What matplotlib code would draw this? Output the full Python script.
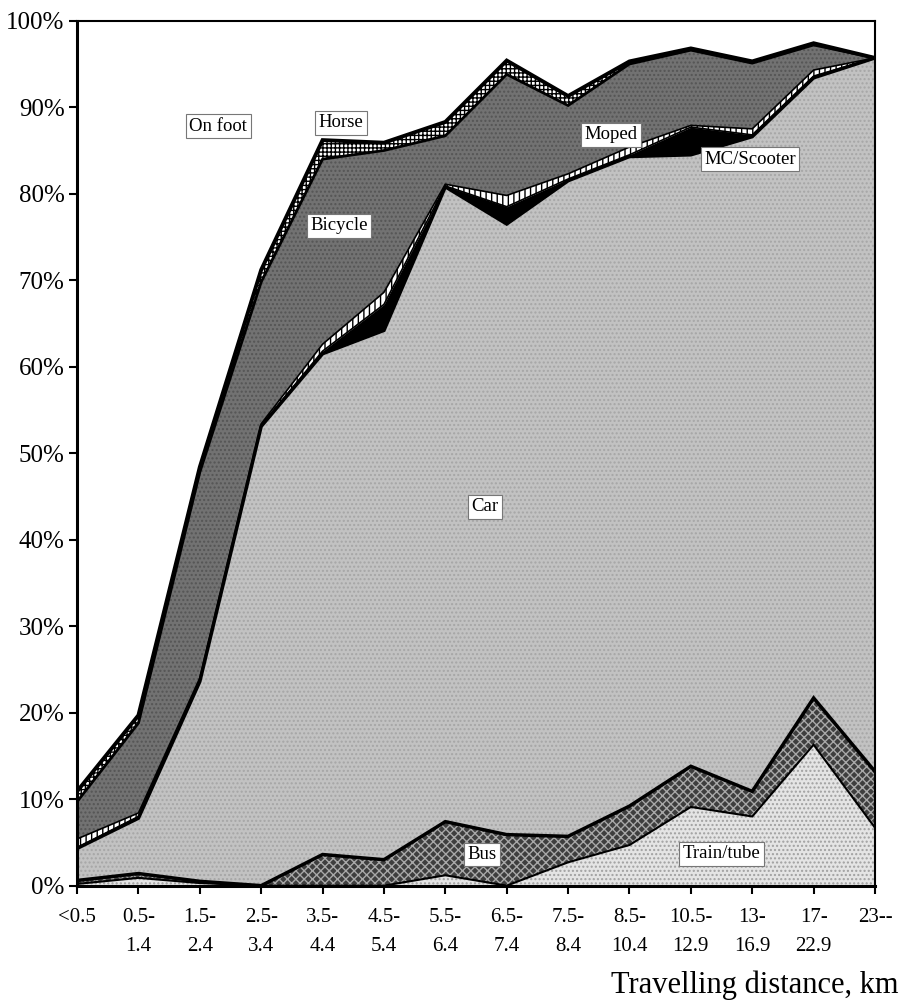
import matplotlib
matplotlib.use("Agg")
import matplotlib.pyplot as plt
import numpy as np

plt.rcParams['font.family'] = ['Liberation Serif', 'DejaVu Serif']
plt.rcParams['hatch.linewidth'] = 1.0

# travelling distance classes (km)
distances = ["<0.5", "0.5-\n1.4", "1.5-\n2.4", "2.5-\n3.4", "3.5-\n4.4", "4.5-\n5.4",
             "5.5-\n6.4", "6.5-\n7.4", "7.5-\n8.4", "8.5-\n10.4", "10.5-\n12.9",
             "13-\n16.9", "17-\n22.9", "23--"]

# modal share (%) per distance class, bottom layer first
train_tube = [0.2, 0.9, 0.3, 0.0, 0.0, 0.0, 1.2, 0.0, 2.7, 4.7, 9.1, 8.0, 16.3, 6.7]
bus        = [0.4, 0.5, 0.2, 0.0, 3.6, 3.0, 6.2, 5.9, 3.0, 4.5, 4.7, 2.9, 5.4, 6.5]
car        = [3.7, 6.4, 23.1, 53.1, 57.9, 61.2, 73.4, 70.6, 75.8, 75.1, 70.7, 75.7, 71.7, 82.5]
mc_scooter = [0.1, 0.2, 0.1, 0.1, 0.3, 3.0, 0.1, 2.0, 0.2, 0.2, 3.2, 0.2, 0.2, 0.0]
moped      = [1.0, 0.4, 0.3, 0.2, 0.8, 1.4, 0.2, 1.3, 0.6, 0.9, 0.2, 0.7, 0.7, 0.0]
bicycle    = [4.3, 10.4, 23.8, 16.4, 21.4, 16.4, 5.6, 14.0, 7.9, 9.6, 8.7, 7.6, 2.9, 0.0]
horse      = [1.2, 0.9, 0.6, 1.4, 2.2, 0.9, 1.6, 1.6, 1.1, 0.3, 0.2, 0.2, 0.2, 0.0]
on_foot    = [89.1, 80.3, 51.6, 28.8, 13.8, 14.1, 11.7, 4.6, 8.7, 4.7, 3.2, 4.7, 2.6, 4.3]

layers = [
    # (values, face, hatch, hatch colour)
    (train_tube, '#e4e4e4', '....', '#a0a0a0'),
    (bus,        '#3e3e3e', 'xxxx', '#a8a8a8'),
    (car,        '#c2c2c2', '....', '#a6a6a6'),
    (mc_scooter, 'black',   None,   'black'),
    (moped,      'white',   '|||',  'black'),
    (bicycle,    '#727272', '....', '#555555'),
    (horse,      'white',   '++++', 'black'),
    (on_foot,    'white',   None,   'white'),
]

x = np.arange(len(distances))

fig = plt.figure(figsize=(8.99, 10.07), dpi=100)
ax = fig.add_axes([0.0857, 0.1205, 0.8876, 0.8589])

bottom = np.zeros(len(x))
tops = []
for vals, face, hatch, hcol in layers:
    top = bottom + np.array(vals)
    ax.fill_between(x, bottom, top, facecolor=face, edgecolor=hcol,
                    hatch=hatch, linewidth=0)
    tops.append(top)
    bottom = top

# black outlines between layers (skip the 100% line)
widths = [1.5, 2.5, 2.5, 1.2, 1.2, 2.0, 2.8]
for top, lw in zip(tops[:-1], widths):
    ax.plot(x, top, color='black', lw=lw, solid_joinstyle='miter')

ax.set_xlim(0, len(x) - 1)
ax.set_ylim(0, 100)
ax.set_yticks(np.arange(0, 101, 10))
ax.set_yticklabels([f"{v}%" for v in range(0, 101, 10)], fontsize=18)
ax.set_xticks(x)
ax.set_xticklabels(distances, fontsize=15, linespacing=1.75)
ax.tick_params(axis='both', direction='out', length=6, width=1.5, color='black')
ax.tick_params(axis='x', pad=10)
ax.tick_params(axis='y', pad=3)
for s in ax.spines.values():
    s.set_linewidth(1.5)
ax.spines['left'].set_linewidth(2.2)
ax.spines['bottom'].set_linewidth(2.2)

box = dict(boxstyle='square,pad=0.18', fc='white', ec='#777777', lw=0.8)
labels = [("On foot", 2.3, 87.8), ("Horse", 4.3, 88.2), ("Bicycle", 4.27, 76.3),
          ("Moped", 8.7, 86.8), ("MC/Scooter", 10.96, 84.0), ("Car", 6.64, 43.8),
          ("Bus", 6.6, 3.6), ("Train/tube", 10.5, 3.7)]
for txt, lx, ly in labels:
    ax.text(lx, ly, txt, fontsize=13.5, ha='center', va='center', bbox=box, zorder=5)

fig.text(0.999, 0.022, "Travelling distance, km", fontsize=22, ha='right', va='center')

fig.savefig("out.png", dpi=100)
